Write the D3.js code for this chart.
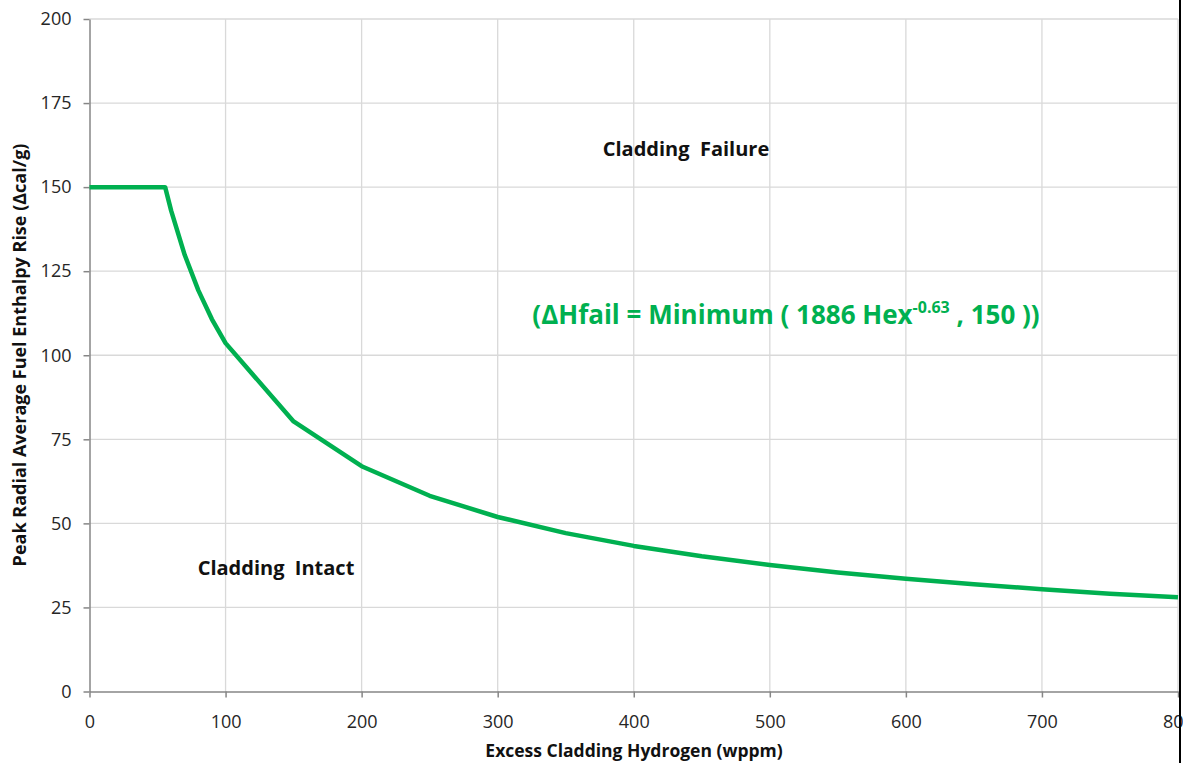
<!DOCTYPE html>
<html><head><meta charset="utf-8">
<script src="https://cdn.jsdelivr.net/npm/d3@7"></script>
<style>
body{margin:0;background:#fff;}
svg{display:block;font-family:"Open Sans",sans-serif;}
text{white-space:pre;}
</style></head>
<body><svg id="c" width="1183" height="763"></svg>
<script>
const hydrogen = [0, 55.6, 60, 70, 80, 90, 100, 150, 200, 250, 300, 350, 400, 450, 500, 550, 600, 650, 700, 750, 800];
const enthalpy = [150, 150, 143.0, 129.8, 119.3, 110.7, 103.6, 80.3, 67.0, 58.2, 51.9, 47.1, 43.3, 40.2, 37.6, 35.4, 33.5, 31.9, 30.4, 29.1, 28.0];
const xTicks = [0, 100, 200, 300, 400, 500, 600, 700, 800];
const yTicks = [0, 25, 50, 75, 100, 125, 150, 175, 200];

const svg = d3.select("#c");
const x = d3.scaleLinear().domain([0, 800]).range([89.5, 1178]);
const y = d3.scaleLinear().domain([0, 200]).range([691.5, 19]);

// gridlines
svg.append("g").selectAll("line").data(yTicks.filter(d => d > 0)).join("line")
  .attr("x1", x(0)).attr("x2", x(800)).attr("y1", d => y(d)).attr("y2", d => y(d))
  .attr("stroke", "#d9d9d9").attr("stroke-width", 1.3);
svg.append("g").selectAll("line").data(xTicks.filter(d => d > 0)).join("line")
  .attr("x1", d => x(d)).attr("x2", d => x(d)).attr("y1", y(0)).attr("y2", y(200))
  .attr("stroke", "#d9d9d9").attr("stroke-width", 1.3);

// axes
const xAxis = svg.append("g").attr("transform", `translate(0,${y(0)})`)
  .call(d3.axisBottom(x).tickValues(xTicks).tickSize(6).tickPadding(18).tickSizeOuter(0));
const yAxis = svg.append("g").attr("transform", `translate(${x(0)},0)`)
  .call(d3.axisLeft(y).tickValues(yTicks).tickSize(6).tickPadding(12).tickSizeOuter(0));
[xAxis, yAxis].forEach(a => {
  a.select(".domain").attr("stroke", "#868686").attr("stroke-width", 1.5);
  a.selectAll(".tick line").attr("stroke", "#868686").attr("stroke-width", 1.5);
  a.selectAll(".tick text").attr("fill", "#262626").attr("font-size", 18).attr("font-family", "'Open Sans', sans-serif");
});
xAxis.selectAll(".tick line").attr("y1", 0);

// line
const pts = hydrogen.map((h, i) => [h, enthalpy[i]]);
svg.append("path").datum(pts)
  .attr("d", d3.line().x(d => x(d[0])).y(d => y(d[1])))
  .attr("fill", "none").attr("stroke", "#00b050").attr("stroke-width", 4.5)
  .attr("stroke-linejoin", "round");

// right border
svg.append("line").attr("x1", 1180).attr("x2", 1180).attr("y1", 0).attr("y2", 763)
  .attr("stroke", "#000").attr("stroke-width", 2);

// labels
svg.append("text").attr("x", 686).attr("y", 156).attr("text-anchor", "middle")
  .attr("font-weight", "bold").attr("font-size", 20).attr("fill", "#111")
  .text("Cladding  Failure");
svg.append("text").attr("x", 276).attr("y", 575).attr("text-anchor", "middle")
  .attr("font-weight", "bold").attr("font-size", 20).attr("fill", "#111")
  .text("Cladding  Intact");

const eq = svg.append("text").attr("x", 786).attr("y", 324).attr("text-anchor", "middle")
  .attr("font-weight", "bold").attr("font-size", 26).attr("fill", "#00b050");
eq.append("tspan").text("(ΔHfail = Minimum ( 1886 Hex");
eq.append("tspan").attr("font-size", 16).attr("dy", -11).text("-0.63");
eq.append("tspan").attr("dy", 11).text(" , 150 ))");

svg.append("text").attr("x", 634).attr("y", 757).attr("text-anchor", "middle")
  .attr("font-weight", "bold").attr("font-size", 17.5).attr("fill", "#111")
  .text("Excess Cladding Hydrogen (wppm)");
svg.append("text").attr("transform", "translate(26,355) rotate(-90)").attr("text-anchor", "middle")
  .attr("font-weight", "bold").attr("font-size", 18).attr("fill", "#111")
  .text("Peak Radial Average Fuel Enthalpy Rise (Δcal/g)");
</script></body></html>
